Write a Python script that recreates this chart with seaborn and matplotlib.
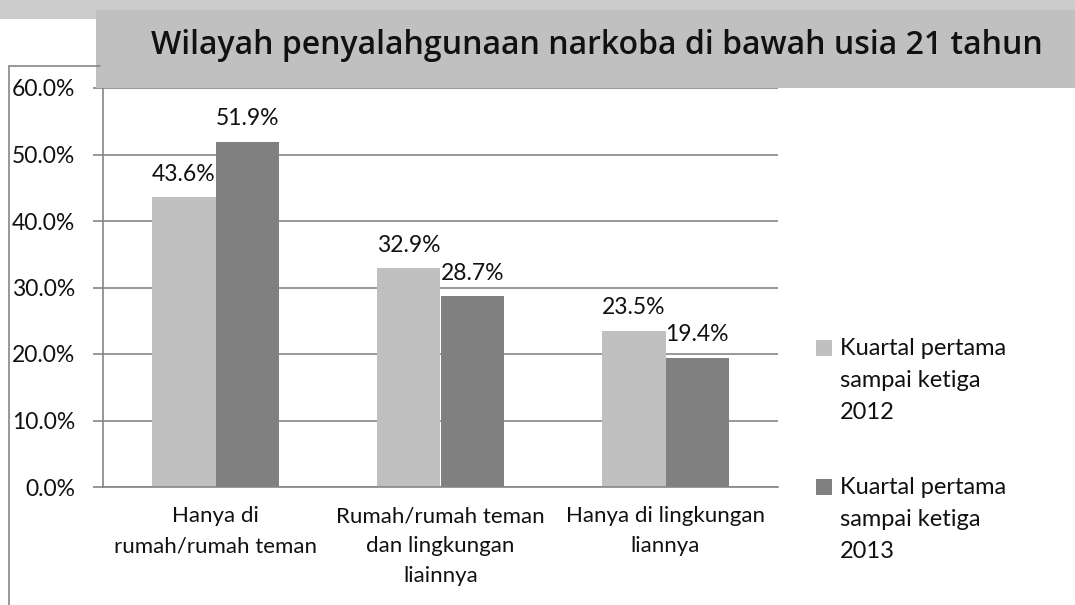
import seaborn as sns
import matplotlib.pyplot as plt
import pandas as pd
from matplotlib.patches import Rectangle
from matplotlib.lines import Line2D
from matplotlib.ticker import PercentFormatter

categories = ['Hanya di\nrumah/rumah teman',
              'Rumah/rumah teman\ndan lingkungan\nliainnya',
              'Hanya di lingkungan\nliannya']
series_names = ['Kuartal pertama\nsampai ketiga\n2012',
                'Kuartal pertama\nsampai ketiga\n2013']
values_2012 = [43.6, 32.9, 23.5]
values_2013 = [51.9, 28.7, 19.4]
colors = ['#c0c0c0', '#808080']
title = 'Wilayah penyalahgunaan narkoba di bawah usia 21 tahun'

df = pd.DataFrame({
    'Kategori': categories * 2,
    'Nilai': values_2012 + values_2013,
    'Seri': [series_names[0]] * 3 + [series_names[1]] * 3,
})

sns.set_style('white')
plt.rcParams['font.family'] = ['Lato', 'DejaVu Sans']
grid_c = '#868686'
txt_c = '#111111'
W, H = 1075, 605

fig = plt.figure(figsize=(10.75, 6.05), dpi=100)

# background strip, frame and title box
fig.patches.append(Rectangle((0, 1 - 19 / H), 1, 19 / H, transform=fig.transFigure,
                             facecolor='#cccccc', edgecolor='none', zorder=0))
fig.add_artist(Line2D([9 / W, 9 / W], [0, 1 - 66 / H], color=grid_c, lw=1.2))
fig.add_artist(Line2D([9 / W, 100 / W], [1 - 66 / H, 1 - 66 / H], color=grid_c, lw=1.2))
fig.patches.append(Rectangle((96 / W, 1 - 88 / H), 1 - 96 / W, 78 / H,
                             transform=fig.transFigure, facecolor='#c0c0c0',
                             edgecolor='none', zorder=1))
fig.text(597 / W, 1 - 46 / H, title, ha='center', va='center', fontsize=23,
         fontweight='semibold', family=['Open Sans', 'DejaVu Sans'], color=txt_c, zorder=2)

ax = fig.add_axes([103 / W, 1 - 487 / H, 675 / W, 399 / H])
sns.barplot(data=df, x='Kategori', y='Nilai', hue='Seri', palette=colors,
            width=0.564, gap=0, saturation=1, linewidth=0, ax=ax, legend=False)

for cont in ax.containers:
    ax.bar_label(cont, labels=[f'{v:.1f}%' for v in cont.datavalues],
                 padding=9, fontsize=16.5, color=txt_c)

ax.set_ylim(0, 60)
ax.set_xlim(-0.5, 2.5)
ax.set_yticks(range(0, 61, 10))
ax.yaxis.set_major_formatter(PercentFormatter(decimals=1))
ax.yaxis.grid(True, color=grid_c, lw=1.2)
ax.set_axisbelow(True)
ax.set_xlabel('')
ax.set_ylabel('')
for s in ['top', 'right']:
    ax.spines[s].set_visible(False)
for s in ['left', 'bottom']:
    ax.spines[s].set_color(grid_c)
    ax.spines[s].set_linewidth(1.2)

ax.set_xticks([-0.5, 0.5, 1.5, 2.5], minor=True)
ax.tick_params(axis='x', which='minor', length=7, color=grid_c, width=1.2, direction='out')
ax.tick_params(axis='x', which='major', length=0, labelsize=16, pad=14)
ax.tick_params(axis='y', length=7, color=grid_c, width=1.2, labelsize=16.5, pad=13, left=True)
for lab in ax.get_yticklabels():
    lab.set_color(txt_c)
for lab in ax.get_xticklabels():
    lab.set_color(txt_c)
    lab.set_linespacing(1.6)

# legend: square aligned with first text line
legend_tops = [338, 477]
for c, name, top in zip(colors, series_names, legend_tops):
    fig.patches.append(Rectangle((816 / W, 1 - (top + 18) / H), 16 / W, 16 / H,
                                 transform=fig.transFigure, facecolor=c, edgecolor='none'))
    fig.text(840 / W, 1 - top / H, name, ha='left', va='top', fontsize=17,
             linespacing=1.65, color=txt_c)

fig.savefig('out.png', dpi=100)
